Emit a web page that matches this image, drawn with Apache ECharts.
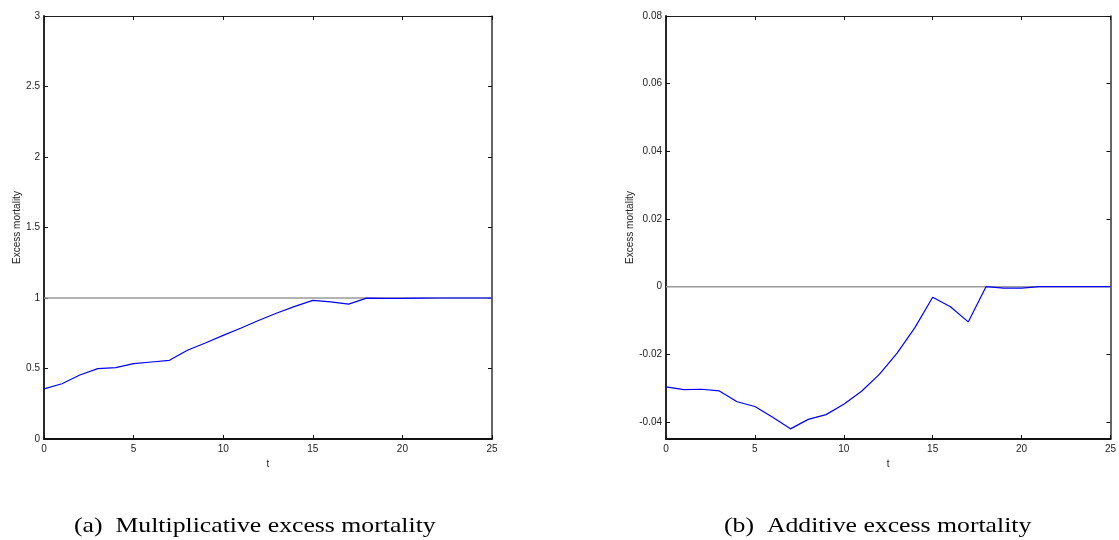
<!DOCTYPE html>
<html>
<head>
<meta charset="utf-8">
<script src="https://cdn.jsdelivr.net/npm/echarts@6/dist/echarts.min.js"></script>
<style>
html,body{margin:0;padding:0;background:#fff;}
#chart{width:1119px;height:540px;}
</style>
</head>
<body>
<div id="chart"></div>
<script>
const t = [0,1,2,3,4,5,6,7,8,9,10,11,12,13,14,15,16,17,18,19,20,21,22,23,24,25];
const multValues = [0.355,0.392,0.454,0.499,0.506,0.534,0.546,0.558,0.629,0.681,0.735,0.787,0.842,0.894,0.941,0.983,0.972,0.957,0.999,0.998,0.998,0.999,1.0,1.0,1.0,1.0];
const addValues = [-0.0296,-0.0304,-0.0303,-0.0308,-0.0340,-0.0354,-0.0386,-0.0420,-0.0392,-0.0378,-0.0347,-0.0309,-0.0259,-0.0196,-0.0121,-0.0031,-0.0059,-0.0104,0,-0.0004,-0.0004,0,0,0,0,0];
const xTicks = [0,5,10,15,20,25];
const leftYTicks = [0,0.5,1,1.5,2,2.5,3];
const rightYTicks = [-0.04,-0.02,0,0.02,0.04,0.06,0.08];
const multReference = 1;
const addReference = 0;
const captions = ['(a)  Multiplicative excess mortality', '(b)  Additive excess mortality'];

const sans = 'Liberation Sans, Arial, sans-serif';
const labelColor = '#222';

function bottomX(grid){
  return {
    type:'value', gridIndex:grid, position:'bottom', min:0, max:25,
    name:'t', nameLocation:'middle', nameGap:20,
    nameTextStyle:{fontFamily:sans, fontSize:10, color:labelColor},
    axisLine:{show:true, onZero:false, lineStyle:{color:'#111', width:1.8}},
    axisTick:{show:true, inside:true, length:4, customValues:xTicks, lineStyle:{color:'#111', width:1}},
    axisLabel:{show:true, customValues:xTicks, margin:5, fontFamily:sans, fontSize:10, color:labelColor},
    splitLine:{show:false}
  };
}
function topX(grid){
  return {
    type:'value', gridIndex:grid, position:'top', min:0, max:25,
    axisLine:{show:true, onZero:false, lineStyle:{color:'#222', width:1}},
    axisTick:{show:true, inside:true, length:4, customValues:xTicks, lineStyle:{color:'#111', width:1}},
    axisLabel:{show:false},
    splitLine:{show:false}
  };
}
function leftY(grid, min, max, ticks, gap){
  return {
    type:'value', gridIndex:grid, position:'left', min:min, max:max,
    name:'Excess mortality', nameLocation:'middle', nameGap:gap,
    nameTextStyle:{fontFamily:sans, fontSize:10, color:labelColor},
    axisLine:{show:true, onZero:false, lineStyle:{color:'#111', width:1.8}},
    axisTick:{show:true, inside:true, length:4, customValues:ticks, lineStyle:{color:'#111', width:1}},
    axisLabel:{show:true, customValues:ticks, margin:4, fontFamily:sans, fontSize:10, color:labelColor},
    splitLine:{show:false}
  };
}
function rightY(grid, min, max, ticks){
  return {
    type:'value', gridIndex:grid, position:'right', min:min, max:max,
    axisLine:{show:true, onZero:false, lineStyle:{color:'#333', width:1.5}},
    axisTick:{show:true, inside:true, length:4, customValues:ticks, lineStyle:{color:'#111', width:1}},
    axisLabel:{show:false},
    splitLine:{show:false}
  };
}

function caption(text, x){
  return {
    type:'text', x:x, y:515, scaleX:1.17, scaleY:1, silent:true,
    style:{text:text, fontFamily:'Liberation Serif, Times New Roman, serif', fontSize:22, fill:'#000', align:'left', verticalAlign:'top'}
  };
}

const chart = echarts.init(document.getElementById('chart'), null, {renderer:'canvas'});
chart.setOption({
  animation:false,
  backgroundColor:'#fff',
  graphic:[caption(captions[0], 74), caption(captions[1], 724)],
  grid:[
    {left:44, top:16, width:448, height:423},
    {left:666, top:16, width:448, height:423}
  ],
  xAxis:[bottomX(0), topX(0), bottomX(1), topX(1)],
  yAxis:[leftY(0,0,3,leftYTicks,22), rightY(0,0,3,leftYTicks), leftY(1,-0.045,0.08,rightYTicks,30), rightY(1,-0.045,0.08,rightYTicks)],
  series:[
    {type:'line', xAxisIndex:0, yAxisIndex:0, data:[[t[0],multReference],[t[t.length-1],multReference]], symbol:'none', lineStyle:{color:'#9a9a9a', width:1.5}, z:1, silent:true},
    {type:'line', xAxisIndex:0, yAxisIndex:0, data:t.map((x,i)=>[x,multValues[i]]), symbol:'none', lineStyle:{color:'#0000ff', width:1.2}, z:2},
    {type:'line', xAxisIndex:2, yAxisIndex:2, data:[[t[0],addReference],[t[t.length-1],addReference]], symbol:'none', lineStyle:{color:'#9a9a9a', width:1.5}, z:1, silent:true},
    {type:'line', xAxisIndex:2, yAxisIndex:2, data:t.map((x,i)=>[x,addValues[i]]), symbol:'none', lineStyle:{color:'#0000ff', width:1.2}, z:2}
  ]
});
</script>
</body>
</html>
